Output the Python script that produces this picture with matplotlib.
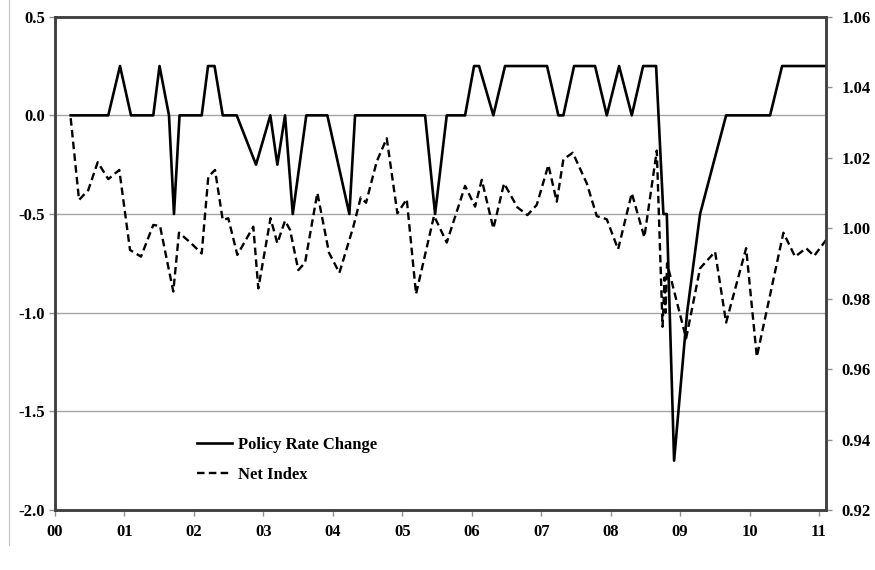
import matplotlib
matplotlib.use("Agg")
import matplotlib.pyplot as plt
from matplotlib.lines import Line2D

# Policy rate change (left axis), x in years since 2000
rate_x = [0.226, 0.767, 0.936, 1.094, 1.415, 1.505, 1.641, 1.713, 1.793, 2.112,
          2.203, 2.297, 2.415, 2.616, 2.894, 3.100, 3.201, 3.312, 3.423, 3.618,
          3.921, 4.238, 4.320, 5.328, 5.472, 5.640, 5.904, 6.033, 6.105, 6.311,
          6.479, 7.084, 7.247, 7.319, 7.473, 7.775, 7.944, 8.121, 8.304, 8.467,
          8.654, 8.759, 8.808, 8.913, 9.100, 9.287, 9.474, 9.662, 10.295, 10.468,
          11.10]
rate_y = [0, 0, 0.25, 0, 0, 0.25, 0, -0.5, 0, 0,
          0.25, 0.25, 0, 0, -0.25, 0, -0.25, 0, -0.5, 0,
          0, -0.5, 0, 0, -0.5, 0, 0, 0.25, 0.25, 0,
          0.25, 0.25, 0, 0, 0.25, 0.25, 0, 0.25, 0, 0.25,
          0.25, -0.5, -0.5, -1.75, -1.0, -0.5, -0.25, 0, 0, 0.25,
          0.25]

# Net index (right axis)
net_x = [0.226, 0.346, 0.479, 0.615, 0.767, 0.926, 1.080, 1.238, 1.415, 1.512,
         1.703, 1.785, 1.944, 2.112, 2.207, 2.304, 2.415, 2.495, 2.625, 2.855,
         2.927, 3.103, 3.201, 3.312, 3.384, 3.503, 3.600, 3.777, 3.945, 4.094,
         4.295, 4.402, 4.478, 4.632, 4.776, 4.929, 5.064, 5.198, 5.457, 5.640,
         5.904, 6.048, 6.144, 6.311, 6.465, 6.657, 6.801, 6.936, 7.103, 7.224,
         7.319, 7.454, 7.656, 7.800, 7.944, 8.107, 8.304, 8.485, 8.664, 8.747,
         8.776, 8.790, 8.812, 9.086, 9.287, 9.503, 9.662, 9.950, 10.104, 10.487,
         10.655, 10.814, 10.929, 11.10]
net_y = [1.0312, 1.0080, 1.0108, 1.0187, 1.0139, 1.0165, 0.9938, 0.9919, 1.0009, 1.0006,
         0.9820, 0.9987, 0.9960, 0.9928, 1.0146, 1.0165, 1.0023, 1.0028, 0.9924, 1.0004,
         0.9829, 1.0028, 0.9957, 1.0021, 0.9995, 0.9881, 0.9902, 1.0100, 0.9930, 0.9873,
         1.0004, 1.0087, 1.0072, 1.0189, 1.0255, 1.0042, 1.0082, 0.9813, 1.0035, 0.9959,
         1.0120, 1.0061, 1.0137, 0.9999, 1.0127, 1.0059, 1.0037, 1.0066, 1.0179, 1.0075,
         1.0195, 1.0214, 1.0127, 1.0034, 1.0025, 0.9940, 1.0099, 0.9974, 1.0220, 0.9720,
         0.9860, 0.9760, 0.9900, 0.9687, 0.9886, 0.9933, 0.9732, 0.9943, 0.9635, 0.9987,
         0.9919, 0.9943, 0.9921, 0.9966]

year_ticks = list(range(0, 12))
year_labels = ["%02d" % y for y in year_ticks]
left_ticks = [-2.0, -1.5, -1.0, -0.5, 0.0, 0.5]
right_ticks = [0.92, 0.94, 0.96, 0.98, 1.00, 1.02, 1.04, 1.06]

plt.rcParams['font.family'] = ['Liberation Serif', 'DejaVu Serif']
plt.rcParams['font.weight'] = 'bold'

fig = plt.figure(figsize=(8.75, 5.7), dpi=100)
ax = fig.add_axes([55 / 875, 60 / 570, 771 / 875, 493.3 / 570])
ax2 = ax.twinx()

ax.plot(rate_x, rate_y, color='black', lw=1.9, label='Policy Rate Change', zorder=3)
ax2.plot(net_x, net_y, color='black', lw=1.7, ls=(0, (3.2, 1.8)), label='Net Index')

ax.set_xlim(0, 11.10)
ax.set_ylim(-2.0, 0.5)
ax2.set_ylim(0.92, 1.06)

ax.set_yticks(left_ticks)
ax.set_yticklabels(["%.1f" % v for v in left_ticks])
ax2.set_yticks(right_ticks)
ax2.set_yticklabels(["%.2f" % v for v in right_ticks])
ax.set_xticks(year_ticks)
ax.set_xticklabels(year_labels)

ax.grid(axis='y', color='#a6a6a6', lw=1.0)
ax.set_axisbelow(True)

for a in (ax, ax2):
    for s in a.spines.values():
        s.set_color('#404040')
        s.set_linewidth(1.8)
    a.tick_params(length=4, width=1, color='#909090', labelsize=12)
ax.tick_params(axis='x', pad=6)
ax.tick_params(axis='y', pad=3)
ax2.tick_params(axis='y', pad=7)

# legend drawn inside the plot
handles = [Line2D([], [], color='black', lw=1.9),
           Line2D([], [], color='black', lw=1.7, ls=(0, (3.2, 1.8)))]
ax.legend(handles, ['Policy Rate Change', 'Net Index'], loc='lower left',
          bbox_to_anchor=(0.165, 0.025), frameon=False, fontsize=12,
          handlelength=2.1, handletextpad=0.35, labelspacing=0.85)

# thin outer chart border on the left
fig.add_artist(Line2D([9 / 875, 9 / 875], [25 / 570, 1.0], color='#c0c0c0', lw=0.8))

fig.savefig('out.png', dpi=100)
